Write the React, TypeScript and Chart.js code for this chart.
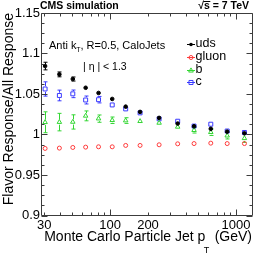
import React, { useEffect, useRef } from 'react';
import { Chart, registerables } from 'chart.js';

Chart.register(...registerables);

const FONT = '"Liberation Sans", Arial, Helvetica, sans-serif';

// ---- data ----
const ptBins = [30.5, 39.6, 50.6, 64, 81, 104, 133, 173, 245, 344, 464, 630, 850, 1165];
const udsValues = [1.0845, 1.0742, 1.0685, 1.0577, 1.0513, 1.0439, 1.0344, 1.0279, 1.0205, 1.0135, 1.0102, 1.007, 1.0035, 1.0015];
const udsErrors = [0.0047, 0.003, 0.0025, 0.002, 0.002, 0.0015, 0.0015, 0.0012, 0.001, 0.001, 0.001, 0.001, 0.0012, 0.0015];
const gluonValues = [0.9828, 0.9832, 0.984, 0.9844, 0.9848, 0.9848, 0.9865, 0.9865, 0.9873, 0.9885, 0.9888, 0.9893, 0.9888, 0.9888];
const gluonErrors = [0.0008, 0.0007, 0.0006, 0.0006, 0.0005, 0.0005, 0.0005, 0.0005, 0.0005, 0.0005, 0.0005, 0.0005, 0.0006, 0.0008];
const bValues = [1.0151, 1.0153, 1.0155, 1.023, 1.0196, 1.0176, 1.0172, 1.0164, 1.0143, 1.0094, 1.0053, 1.0028, 0.9985, 0.9953];
const bErrors = [0.0129, 0.0108, 0.0088, 0.0061, 0.0045, 0.004, 0.0035, 0.003, 0.003, 0.003, 0.0035, 0.004, 0.004, 0.005];
const cValues = [1.0562, 1.0482, 1.0502, 1.0426, 1.043, 1.0365, 1.0316, 1.0267, 1.0193, 1.0164, 1.0104, 1.0127, 1.0043, 1.0025];
const cErrors = [0.0088, 0.0066, 0.0047, 0.0049, 0.004, 0.003, 0.0028, 0.0025, 0.0022, 0.002, 0.002, 0.002, 0.0025, 0.003];

const seriesLabels = ['uds', 'gluon', 'b', 'c'];
const xTickValues = [30, 100, 200, 1000];
const xTickLabels = ['30', '100', '200', '1000'];
const yTickValues = [0.9, 0.95, 1, 1.05, 1.1, 1.15];
const yTickLabels = ['0.9', '0.95', '1', '1.05', '1.1', '1.15'];

const COLORS = { uds: '#000000', gluon: '#ff3a3a', b: '#33d633', c: '#3a3aff' };

function toPoints(vals: number[]) {
  return vals.map((v, i) => ({ x: ptBins[i], y: v }));
}

function drawMarker(ctx: CanvasRenderingContext2D, style: string, x: number, y: number, r: number, color: string) {
  ctx.save();
  ctx.strokeStyle = color;
  ctx.fillStyle = color;
  ctx.lineWidth = 1;
  ctx.beginPath();
  if (style === 'dot') {
    ctx.arc(x, y, r, 0, Math.PI * 2);
    ctx.fill();
  } else if (style === 'circle') {
    ctx.arc(x, y, r, 0, Math.PI * 2);
    ctx.stroke();
  } else if (style === 'triangle') {
    ctx.moveTo(x, y - r);
    ctx.lineTo(x + r * 0.9, y + r * 0.6);
    ctx.lineTo(x - r * 0.9, y + r * 0.6);
    ctx.closePath();
    ctx.stroke();
  } else {
    const s = r * 0.72;
    ctx.rect(x - s, y - s, 2 * s, 2 * s);
    ctx.stroke();
  }
  ctx.restore();
}

const errorBars = {
  id: 'errorBars',
  beforeDatasetsDraw(chart: any) {
    const { ctx } = chart;
    const xs = chart.scales.x;
    const ys = chart.scales.y;
    chart.data.datasets.forEach((ds: any) => {
      const errs: number[] = ds.errors;
      if (!errs) return;
      ctx.save();
      ctx.strokeStyle = ds.borderColor;
      ctx.lineWidth = 1;
      ctx.beginPath();
      ds.data.forEach((p: any, i: number) => {
        const px = Math.round(xs.getPixelForValue(p.x)) + 0.5;
        const yt = ys.getPixelForValue(p.y + errs[i]);
        const yb = ys.getPixelForValue(p.y - errs[i]);
        const yc = ys.getPixelForValue(p.y);
        const r = ds.pointRadius;
        if (yc - yt > r) {
          ctx.moveTo(px, yt);
          ctx.lineTo(px, yc - r);
          ctx.moveTo(px, yc + r);
          ctx.lineTo(px, yb);
          ctx.moveTo(px - 2, yt);
          ctx.lineTo(px + 2, yt);
          ctx.moveTo(px - 2, yb);
          ctx.lineTo(px + 2, yb);
        }
      });
      ctx.stroke();
      ctx.restore();
    });
  },
};

const frameTicks = {
  id: 'frameTicks',
  afterDatasetsDraw(chart: any) {
    const { ctx, chartArea: a } = chart;
    const xs = chart.scales.x;
    const ys = chart.scales.y;
    const L = Math.floor(a.left) + 0.5;
    const R = Math.floor(a.right) + 0.5;
    const T = Math.floor(a.top) + 0.5;
    const B = Math.floor(a.bottom) + 0.5;
    ctx.save();
    ctx.strokeStyle = '#3c3c3c';
    ctx.lineWidth = 1;
    ctx.beginPath();
    ctx.rect(L, T, R - L, B - T);
    // y ticks
    for (let k = 0; k <= 20; k++) {
      const v = 0.9 + k * 0.0125;
      const py = Math.round(ys.getPixelForValue(v)) + 0.5;
      const len = k % 4 === 0 ? 6 : 3;
      ctx.moveTo(L, py);
      ctx.lineTo(L + len, py);
      ctx.moveTo(R, py);
      ctx.lineTo(R - len, py);
    }
    // x ticks (log)
    for (const dec of [10, 100, 1000]) {
      for (let m = 1; m <= 9; m++) {
        const v = m * dec;
        if (v < xs.min || v > xs.max) continue;
        const px = Math.round(xs.getPixelForValue(v)) + 0.5;
        const len = m === 1 ? 6 : 3;
        ctx.moveTo(px, B);
        ctx.lineTo(px, B - len);
        ctx.moveTo(px, T);
        ctx.lineTo(px, T + len);
      }
    }
    ctx.stroke();
    ctx.restore();
  },
};

type Part = { t: string; size: number; dy?: number; dx?: number; bold?: boolean };

function drawRich(ctx: CanvasRenderingContext2D, parts: Part[], x: number, y: number, align: 'left' | 'right') {
  ctx.save();
  ctx.textAlign = 'left';
  ctx.textBaseline = 'alphabetic';
  let total = 0;
  const widths = parts.map((p) => {
    ctx.font = `${p.bold ? 'bold ' : ''}${p.size}px ${FONT}`;
    const w = ctx.measureText(p.t).width + (p.dx || 0);
    total += w;
    return w;
  });
  let cx = align === 'right' ? x - total : x;
  parts.forEach((p, i) => {
    ctx.font = `${p.bold ? 'bold ' : ''}${p.size}px ${FONT}`;
    ctx.fillText(p.t, cx + (p.dx || 0), y + (p.dy || 0));
    cx += widths[i];
  });
  ctx.restore();
}

const annotations = {
  id: 'annotations',
  afterDraw(chart: any) {
    const ctx: CanvasRenderingContext2D = chart.ctx;
    ctx.save();
    ctx.fillStyle = '#000';
    ctx.strokeStyle = '#000';
    ctx.textBaseline = 'alphabetic';

    // header
    ctx.font = `bold 10.5px ${FONT}`;
    ctx.textAlign = 'left';
    ctx.fillText('CMS simulation', 40, 9.3);
    ctx.textAlign = 'right';
    const energy = '\u221As = 7 TeV';
    ctx.fillText(energy, 249, 9.3);
    const wAll = ctx.measureText(energy).width;
    const wRoot = ctx.measureText('\u221A').width;
    const wS = ctx.measureText('s').width;
    const x0 = 249 - wAll;
    ctx.lineWidth = 1;
    ctx.beginPath();
    ctx.moveTo(x0 + wRoot - 0.5, 1.5);
    ctx.lineTo(x0 + wRoot + wS + 0.5, 1.5);
    ctx.stroke();

    // in-frame text
    ctx.fillStyle = '#000';
    drawRich(ctx, [
      { t: 'Anti k', size: 11 },
      { t: 'T', size: 7, dy: 3, dx: -0.3 },
      { t: ', R=0.5, CaloJets', size: 11 },
    ], 49, 49.3, 'left');
    drawRich(ctx, [{ t: '| \u03B7 | < 1.3', size: 10.5 }], 83, 70, 'left');

    // legend
    const legend = [
      { label: seriesLabels[0], color: COLORS.uds, style: 'dot', r: 1.8, y: 44 },
      { label: seriesLabels[1], color: COLORS.gluon, style: 'circle', r: 2, y: 56.8 },
      { label: seriesLabels[2], color: COLORS.b, style: 'triangle', r: 2.6, y: 69.5 },
      { label: seriesLabels[3], color: COLORS.c, style: 'square', r: 2.8, y: 82 },
    ];
    legend.forEach((e) => {
      ctx.save();
      ctx.strokeStyle = e.color;
      ctx.lineWidth = 1;
      ctx.beginPath();
      ctx.moveTo(187, Math.round(e.y) + 0.5);
      ctx.lineTo(195, Math.round(e.y) + 0.5);
      ctx.stroke();
      ctx.restore();
      drawMarker(ctx, e.style, 191, Math.round(e.y) + 0.5, e.r, e.color);
      ctx.fillStyle = '#000';
      ctx.font = `12.5px ${FONT}`;
      ctx.textAlign = 'left';
      ctx.fillText(e.label, 195.5, e.y + 3.4);
    });

    // axis titles
    drawRich(ctx, [
      { t: 'Monte Carlo Particle Jet p', size: 14 },
      { t: 'T', size: 9, dy: 12, dx: -1.5 },
      { t: ' (GeV)', size: 14, dx: 1.5 },
    ], 252, 240.7, 'right');

    ctx.save();
    ctx.translate(13.3, 13);
    ctx.rotate(-Math.PI / 2);
    ctx.font = `14px ${FONT}`;
    ctx.textAlign = 'right';
    ctx.textBaseline = 'alphabetic';
    ctx.fillStyle = '#000';
    ctx.fillText('Flavor Response/All Response', 0, 0);
    ctx.restore();

    ctx.restore();
  },
};

export default function App() {
  const canvasRef = useRef<HTMLCanvasElement | null>(null);

  useEffect(() => {
    if (!canvasRef.current) return;
    const chart = new Chart(canvasRef.current, {
      type: 'scatter',
      data: {
        datasets: [
          {
            label: seriesLabels[0],
            data: toPoints(udsValues),
            errors: udsErrors,
            pointStyle: 'circle',
            pointRadius: 1.8,
            pointBorderWidth: 1,
            borderColor: COLORS.uds,
            backgroundColor: COLORS.uds,
          } as any,
          {
            label: seriesLabels[1],
            data: toPoints(gluonValues),
            errors: gluonErrors,
            pointStyle: 'circle',
            pointRadius: 2,
            pointBorderWidth: 1,
            borderColor: COLORS.gluon,
            backgroundColor: 'rgba(0,0,0,0)',
          } as any,
          {
            label: seriesLabels[2],
            data: toPoints(bValues),
            errors: bErrors,
            pointStyle: 'triangle',
            pointRadius: 2.6,
            pointBorderWidth: 1,
            borderColor: COLORS.b,
            backgroundColor: 'rgba(0,0,0,0)',
          } as any,
          {
            label: seriesLabels[3],
            data: toPoints(cValues),
            errors: cErrors,
            pointStyle: 'rect',
            pointRadius: 2.8,
            pointBorderWidth: 1,
            borderColor: COLORS.c,
            backgroundColor: 'rgba(0,0,0,0)',
          } as any,
        ],
      },
      options: {
        animation: false,
        responsive: false,
        events: [],
        layout: { padding: { top: 13, right: 13.5, left: 0, bottom: 0 } },
        plugins: { legend: { display: false }, tooltip: { enabled: false }, title: { display: false } },
        scales: {
          x: {
            type: 'logarithmic',
            min: 28.3,
            max: 1350,
            grid: { display: false, drawTicks: false },
            border: { display: false },
            afterBuildTicks: (s: any) => {
              s.ticks = xTickValues.map((v) => ({ value: v }));
            },
            afterFit: (s: any) => {
              s.height = 39.5;
            },
            ticks: {
              autoSkip: false,
              maxRotation: 0,
              minRotation: 0,
              padding: 2,
              color: '#000',
              font: { family: FONT, size: 13 },
              callback: (_v: any, i: number) => xTickLabels[i],
            },
          },
          y: {
            type: 'linear',
            min: 0.9,
            max: 1.15,
            grid: { display: false, drawTicks: false },
            border: { display: false },
            afterBuildTicks: (s: any) => {
              s.ticks = yTickValues.map((v) => ({ value: v }));
            },
            afterFit: (s: any) => {
              s.width = 41;
            },
            ticks: {
              padding: 1,
              color: '#000',
              font: { family: FONT, size: 13 },
              callback: (_v: any, i: number) => yTickLabels[i],
            },
          },
        },
      } as any,
      plugins: [errorBars, frameTicks, annotations],
    });
    return () => chart.destroy();
  }, []);

  return (
    <div style={{ position: 'fixed', left: 0, top: 0, width: 266, height: 255, background: '#fff' }}>
      <canvas ref={canvasRef} width={266} height={255} style={{ display: 'block' }} />
    </div>
  );
}
